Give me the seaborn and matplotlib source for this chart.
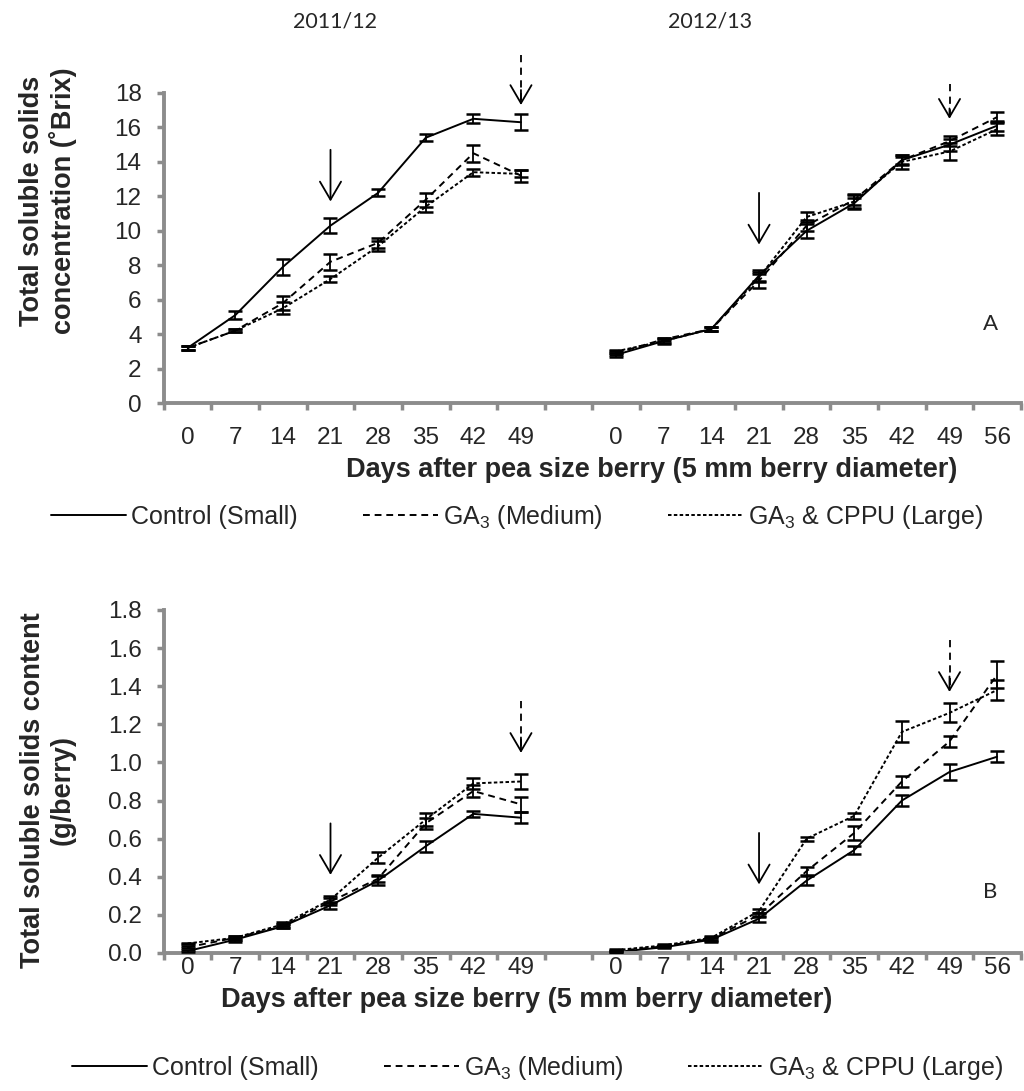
import matplotlib
matplotlib.use("Agg")
import matplotlib.pyplot as plt
import seaborn as sns
import pandas as pd

# days after pea size berry, two seasons
days1 = [0, 7, 14, 21, 28, 35, 42, 49]
days2 = [0, 7, 14, 21, 28, 35, 42, 49, 56]
seasons = ["2011/12", "2012/13"]
treatments = ["Control (Small)", "GA$_3$ (Medium)", "GA$_3$ & CPPU (Large)"]

# A: total soluble solids concentration (Brix)
conc_s1 = [[3.2, 5.1, 7.9, 10.3, 12.2, 15.4, 16.5, 16.3],
           [3.2, 4.2, 5.8, 8.2, 9.3, 11.8, 14.5, 13.2],
           [3.2, 4.2, 5.5, 7.2, 9.1, 11.4, 13.4, 13.3]]
conc_s1_err = [[0.1, 0.25, 0.45, 0.45, 0.2, 0.2, 0.25, 0.45],
               [0.1, 0.1, 0.4, 0.45, 0.3, 0.4, 0.5, 0.35],
               [0.1, 0.1, 0.35, 0.15, 0.3, 0.3, 0.2, 0.2]]
conc_s2 = [[2.8, 3.6, 4.3, 7.4, 10.0, 11.6, 14.1, 15.0, 16.1],
           [2.9, 3.7, 4.3, 7.1, 10.3, 11.8, 14.1, 15.2, 16.6],
           [3.0, 3.6, 4.3, 7.3, 10.8, 11.7, 14.0, 14.6, 15.9]]
conc_s2_err = [[0.1, 0.1, 0.1, 0.3, 0.4, 0.3, 0.3, 0.35, 0.3],
               [0.1, 0.1, 0.1, 0.4, 0.3, 0.3, 0.2, 0.3, 0.3],
               [0.1, 0.15, 0.1, 0.3, 0.3, 0.45, 0.4, 0.5, 0.35]]

# B: total soluble solids content (g/berry)
cont_s1 = [[0.01, 0.07, 0.14, 0.25, 0.38, 0.56, 0.73, 0.71],
           [0.03, 0.08, 0.14, 0.27, 0.39, 0.68, 0.85, 0.78],
           [0.05, 0.08, 0.15, 0.28, 0.50, 0.70, 0.89, 0.90]]
cont_s1_err = [[0.005, 0.01, 0.01, 0.02, 0.025, 0.03, 0.015, 0.03],
               [0.005, 0.01, 0.01, 0.02, 0.02, 0.03, 0.03, 0.04],
               [0.005, 0.01, 0.01, 0.02, 0.03, 0.035, 0.03, 0.04]]
cont_s2 = [[0.005, 0.03, 0.07, 0.18, 0.38, 0.54, 0.80, 0.95, 1.03],
           [0.01, 0.035, 0.075, 0.20, 0.43, 0.63, 0.90, 1.11, 1.46],
           [0.015, 0.04, 0.08, 0.22, 0.60, 0.72, 1.16, 1.26, 1.38]]
cont_s2_err = [[0.005, 0.005, 0.01, 0.015, 0.025, 0.02, 0.03, 0.04, 0.03],
               [0.005, 0.005, 0.01, 0.01, 0.02, 0.035, 0.03, 0.03, 0.07],
               [0.005, 0.005, 0.01, 0.01, 0.01, 0.015, 0.055, 0.05, 0.05]]

# arrows: (category position, start y, tip y, dashed?)
arrows_a = [(3, 14.7, 11.7, False), (7, 20.2, 17.3, True),
            (12, 12.2, 9.2, False), (16, 18.5, 16.5, True)]
arrows_b = [(3, 0.68, 0.41, False), (7, 1.32, 1.05, True),
            (12, 0.63, 0.36, False), (16, 1.64, 1.37, True)]

pos1 = list(range(len(days1)))
pos2 = list(range(len(days1) + 1, len(days1) + 1 + len(days2)))
tick_labels = [str(d) for d in days1] + [""] + [str(d) for d in days2]
xtitle = "Days after pea size berry (5 mm berry diameter)"


def make_df(v1, e1, v2, e2):
    rows = []
    for i, t in enumerate(treatments):
        for p, v, e in zip(pos1, v1[i], e1[i]):
            rows.append(dict(treatment=t, season=seasons[0], pos=p, value=v, err=e))
        for p, v, e in zip(pos2, v2[i], e2[i]):
            rows.append(dict(treatment=t, season=seasons[1], pos=p, value=v, err=e))
    return pd.DataFrame(rows)


df_a = make_df(conc_s1, conc_s1_err, conc_s2, conc_s2_err)
df_b = make_df(cont_s1, cont_s1_err, cont_s2, cont_s2_err)

sns.set_style("white")
plt.rcParams['font.family'] = ['Liberation Sans', 'DejaVu Sans']
plt.rcParams['mathtext.fontset'] = 'custom'
plt.rcParams['mathtext.rm'] = 'Liberation Sans'
plt.rcParams['mathtext.it'] = 'Liberation Sans:italic'
plt.rcParams['mathtext.bf'] = 'Liberation Sans:bold'

palette = {t: "black" for t in treatments}
dashes = {treatments[0]: "", treatments[1]: (3.5, 2.5), treatments[2]: (1.8, 1.2)}
gray = "#8c8c8c"
tick_fs = 17.5
title_fs = 19.5

fig = plt.figure(figsize=(10.24, 10.91), dpi=100)
ax_a = fig.add_axes([0.160, 0.6306, 0.837, 0.2842])
ax_b = fig.add_axes([0.160, 0.1265, 0.837, 0.3144])


def draw(ax, df, ymax, ystep, fmt, arrows, xpad):
    sns.lineplot(data=df, x="pos", y="value", hue="treatment", style="treatment",
                 units="season", estimator=None, palette=palette, dashes=dashes,
                 linewidth=1.4, ax=ax)
    for t, g in df.groupby("treatment"):
        ax.errorbar(g["pos"], g["value"], yerr=g["err"], fmt="none", ecolor="black",
                    elinewidth=1.3, capsize=5, capthick=1.8, zorder=3)
    for x, y0, y1, dashed in arrows:
        hl = (y0 - y1) * 0.3
        style = "->,head_length=0.65,head_width=0.38"
        if dashed:
            ax.plot([x, x], [y0, y1 + hl * 0.2], color="black", lw=1.3,
                    ls=(0, (4, 3)), clip_on=False)
            ax.annotate("", xy=(x, y1), xytext=(x, y1 + hl), annotation_clip=False,
                        arrowprops=dict(arrowstyle=style, color="black", lw=1.3,
                                        shrinkA=0, shrinkB=0, mutation_scale=20))
        else:
            ax.annotate("", xy=(x, y1), xytext=(x, y0), annotation_clip=False,
                        arrowprops=dict(arrowstyle=style, color="black", lw=1.3,
                                        shrinkA=0, shrinkB=0, mutation_scale=20))

    ax.set_xlim(-0.5, len(tick_labels) - 0.5)
    ax.set_ylim(0, ymax)
    n = int(round(ymax / ystep))
    ax.set_yticks([i * ystep for i in range(n + 1)])
    ax.set_yticklabels([fmt.format(i * ystep) for i in range(n + 1)])
    ax.set_xticks([i - 0.5 for i in range(len(tick_labels) + 1)])
    ax.set_xticklabels([])
    ax.set_xticks(range(len(tick_labels)), minor=True)
    ax.set_xticklabels(tick_labels, minor=True)
    ax.tick_params(axis="x", which="major", bottom=True, direction="out", length=5,
                   width=2.5, color=gray)
    ax.tick_params(axis="x", which="minor", bottom=True, length=0, labelsize=tick_fs,
                   pad=xpad)
    ax.tick_params(axis="y", left=True, direction="out", length=5, width=2.5,
                   color=gray, labelsize=tick_fs, pad=11)
    for s in ["top", "right"]:
        ax.spines[s].set_visible(False)
    for s in ["left", "bottom"]:
        ax.spines[s].set_color(gray)
        ax.spines[s].set_linewidth(2.8)
    ax.set_xlabel("")
    ax.set_ylabel("")
    handles, labels = ax.get_legend_handles_labels()
    ax.get_legend().remove()
    return handles, labels


leg_kw = dict(loc="center", bbox_transform=fig.transFigure, ncol=3, frameon=False,
              fontsize=18, handlelength=3.0, columnspacing=2.6, handletextpad=0.2)

h, l = draw(ax_a, df_a, 18, 2, "{:.0f}", arrows_a, 17)
ax_a.legend(h, l, bbox_to_anchor=(0.505, 0.526), **leg_kw)
ax_a.text(0.964, 0.256, "A", transform=ax_a.transAxes, fontsize=16, family="Lato",
          ha="center", va="center")

h, l = draw(ax_b, df_b, 1.8, 0.2, "{:.1f}", arrows_b, 3)
ax_b.legend(h, l, bbox_to_anchor=(0.525, 0.021), **leg_kw)
ax_b.text(0.964, 0.178, "B", transform=ax_b.transAxes, fontsize=16, family="Lato",
          ha="center", va="center")

fig.text(652 / 1024, 1 - 470 / 1091, xtitle, fontsize=title_fs, fontweight="bold",
         ha="center", va="center")
fig.text(527 / 1024, 1 - 1000 / 1091, xtitle, fontsize=title_fs, fontweight="bold",
         ha="center", va="center")

fig.text(335 / 1024, 1 - 21 / 1091, seasons[0], fontsize=15.5, family="Lato",
         ha="center", va="center")
fig.text(710 / 1024, 1 - 21 / 1091, seasons[1], fontsize=15.5, family="Lato",
         ha="center", va="center")

fig.text(48 / 1024, 1 - 201 / 1091, "Total soluble solids\nconcentration (\u02daBrix)",
         rotation=90, fontsize=title_fs, fontweight="bold", ha="center", va="center",
         multialignment="center", linespacing=1.15)
fig.text(48 / 1024, 1 - 790 / 1091, "Total soluble solids content\n(g/berry)",
         rotation=90, fontsize=title_fs, fontweight="bold", ha="center", va="center",
         multialignment="center", linespacing=1.15)

fig.savefig("out.png", dpi=100)
